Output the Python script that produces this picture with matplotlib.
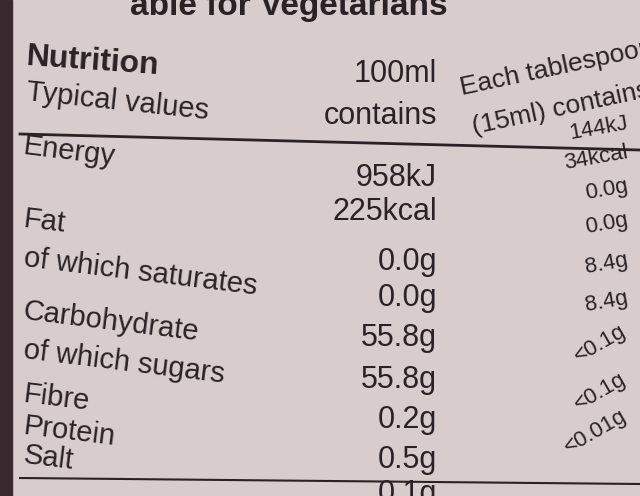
import matplotlib.pyplot as plt

# label text
nutrients = ["Energy", "Fat", "of which saturates", "Carbohydrate",
             "of which sugars", "Fibre", "Protein", "Salt"]
per_100ml = ["958kJ", "225kcal", "0.0g", "0.0g", "55.8g", "55.8g", "0.2g", "0.5g", "0.1g"]
per_tbsp = ["144kJ", "34kcal", "0.0g", "0.0g", "8.4g", "8.4g", "<0.1g", "<0.1g", "<0.01g"]

label_y = [152, 222, 272, 322, 362, 398, 432, 458]
val_y = [178, 212, 262, 298, 338, 380, 420, 460, 494]
tbsp_y = [128, 158, 190, 224, 264, 302, 344, 392, 432]

plt.rcParams['font.family'] = ['Liberation Sans Narrow', 'Liberation Sans', 'DejaVu Sans']
fig = plt.figure(figsize=(6.4, 4.96), dpi=100)
fig.patch.set_facecolor('#d8cccd')
ax = fig.add_axes([0, 0, 1, 1])
ax.set_xlim(0, 640)
ax.set_ylim(496, 0)
ax.axis('off')
ink = '#2a2226'

# dark bottle edge on the left
ax.axvspan(0, 12, color='#3a2a30')

ax.text(130, 6, "able for Vegetarians", fontsize=24, fontweight='bold',
        color=ink, va='center', ha='left')
ax.text(25, 62, "Nutrition", fontsize=23, fontweight='bold', color=ink,
        va='center', rotation=-4)
ax.text(25, 102, "Typical values", fontsize=21, color=ink, va='center', rotation=-6)
ax.text(437, 74, "100ml", fontsize=22, color=ink, va='center', ha='right')
ax.text(437, 116, "contains", fontsize=22, color=ink, va='center', ha='right')
ax.text(458, 68, "Each tablespoon", fontsize=19, color=ink, va='center',
        ha='left', rotation=12)
ax.text(470, 108, "(15ml) contains", fontsize=19, color=ink, va='center',
        ha='left', rotation=12)

ax.plot([20, 640], [134, 150], color=ink, lw=2)
ax.plot([20, 640], [478, 484], color=ink, lw=1.5)

for name, y in zip(nutrients, label_y):
    ax.text(22, y, name, fontsize=21, color=ink, va='center', rotation=-7)
for v, y in zip(per_100ml, val_y):
    ax.text(437, y, v, fontsize=22, color=ink, va='center', ha='right')
for v, y in zip(per_tbsp, tbsp_y):
    ax.text(630, y, v, fontsize=16, color=ink, va='center', ha='right',
            rotation=30 if v.startswith('<') else 10)

fig.savefig('out.png', dpi=100, facecolor=fig.get_facecolor())
